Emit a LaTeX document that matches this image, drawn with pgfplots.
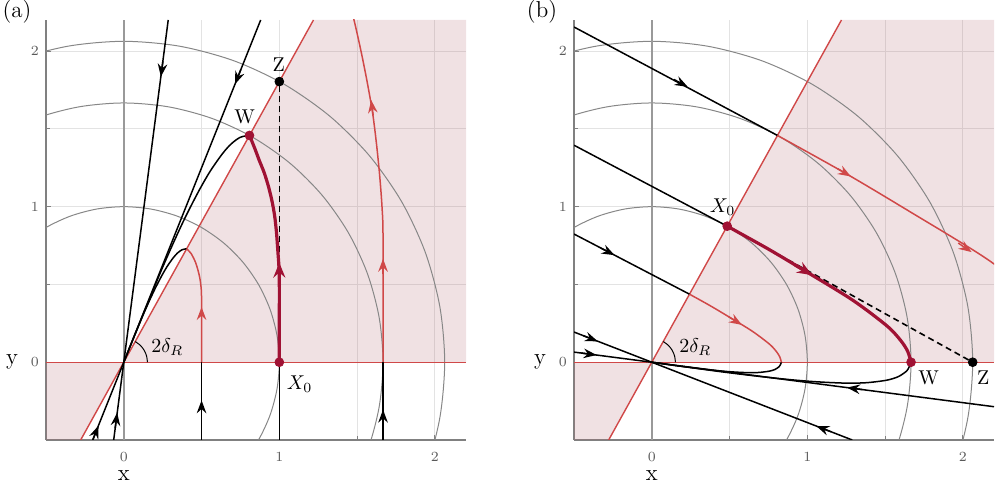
\documentclass[border=0pt]{standalone}
\usepackage{pgfplots}
\pgfplotsset{compat=1.18}
\usepackage{pgfplotstable}
\usetikzlibrary{arrows.meta}

\definecolor{circgray}{RGB}{135,135,135}
\definecolor{redl}{RGB}{208,72,72}
\definecolor{crim}{RGB}{160,18,52}
\definecolor{wedge}{RGB}{180,105,115}

\newcommand\labfont{\fontsize{11.5}{13}\selectfont}
\newcommand\ptfont{\fontsize{10}{12}\selectfont}

% unit circle, every 10 degrees from -40 to 140
\pgfplotstableread{
c s
0.7660 -0.6428
0.8660 -0.5000
0.9397 -0.3420
0.9848 -0.1736
1.0000 0.0000
0.9848 0.1736
0.9397 0.3420
0.8660 0.5000
0.7660 0.6428
0.6428 0.7660
0.5000 0.8660
0.3420 0.9397
0.1736 0.9848
0.0000 1.0000
-0.1736 0.9848
-0.3420 0.9397
-0.5000 0.8660
-0.6428 0.7660
-0.7660 0.6428
}\unitcircle

\pgfplotsset{
  phase/.style={
    width=210pt, height=210pt, scale only axis,
    xmin=-0.5, xmax=2.2, ymin=-0.5, ymax=2.2,
    axis x line*=bottom, axis y line*=left,
    axis line style={draw=black!50, line width=0.6pt},
    xtick={0,1,2}, ytick={0,1,2},
    minor xtick={0.5,1.5}, minor ytick={0.5,1.5},
    grid=both,
    major grid style={draw=black!11, line width=0.5pt},
    minor grid style={draw=black!11, line width=0.5pt},
    tick align=inside,
    major tick length=2.5pt, minor tick length=2pt,
    tick style={draw=black!50, line width=0.5pt},
    ticklabel style={font=\fontsize{7.5}{8}\selectfont, text=black!65},
    xticklabel style={yshift=-2.5pt},
    clip mode=individual,
  },
  ring/.style={circgray, line width=0.5pt, smooth},
  traj/.style={black, line width=0.75pt},
  rtraj/.style={redl, line width=0.75pt},
  ctraj/.style={crim, line width=1.6pt},
  arr/.style={black, line width=0.75pt, -{Stealth[length=6.5pt,width=4.8pt,inset=2.2pt]}},
  rarr/.style={redl, line width=0.75pt, -{Stealth[length=6.5pt,width=4.8pt,inset=2.2pt]}},
  carr/.style={crim, line width=1.6pt, -{Stealth[length=7.5pt,width=6pt,inset=2.6pt]}},
  dash/.style={black, line width=0.8pt, dash pattern=on 3pt off 2pt},
  dot/.style={only marks, mark=*, mark size=2.2pt},
}

\begin{document}
\begin{tikzpicture}
\useasboundingbox (-23pt,-23pt) rectangle (475.5pt,220pt);

% ---------------- (a)
\begin{axis}[phase, at={(0,0)}, anchor=south west]
  \addplot[draw=none, fill=wedge, fill opacity=0.2] coordinates {(0,0)(2.2,0)(2.2,2.2)(1.2195,2.2)} -- cycle;
  \addplot[draw=none, fill=wedge, fill opacity=0.2] coordinates {(0,0)(-0.5,0)(-0.5,-0.5)(-0.2772,-0.5)} -- cycle;
  \addplot[ring] table[x=c, y=s] {\unitcircle};
  \addplot[ring] table[x expr=1.6667*\thisrow{c}, y expr=1.6667*\thisrow{s}] {\unitcircle};
  \addplot[ring] table[x expr=2.063*\thisrow{c}, y expr=2.063*\thisrow{s}] {\unitcircle};
  \addplot[black!40, line width=0.8pt] coordinates {(0,-0.5)(0,2.2)};
  \addplot[redl, line width=0.7pt] coordinates {(-0.5,0)(2.2,0)};
  \addplot[redl, line width=0.7pt] coordinates {(-0.2772,-0.5)(1.2195,2.2)};
  % angle
  \addplot[black, line width=0.5pt, smooth] coordinates {(0.152,0)(0.1468,0.0393)(0.1316,0.076)(0.1075,0.1075)(0.0737,0.1329)};
  % straight lines through the origin
  \addplot[traj] coordinates {(-0.0649,-0.5)(0.2857,2.2)};
  \addplot[traj] coordinates {(-0.2,-0.5)(0.88,2.2)};
  % vertical lines below the x axis
  \addplot[traj] coordinates {(0.5,-0.5)(0.5,0)};
  \addplot[traj] coordinates {(1,-0.5)(1,0)};
  \addplot[traj] coordinates {(1.6667,-0.5)(1.6667,0)};
  % curves back to the origin
  \addplot[traj, smooth] coordinates {(0.808,1.458)(0.749,1.446)(0.690,1.403)(0.634,1.340)(0.555,1.227)(0.484,1.104)(0.401,0.943)(0.331,0.794)(0.247,0.604)(0.167,0.412)(0.1016,0.2526)(0.0457,0.1143)(0,0)};
  \addplot[traj, smooth] coordinates {(0.404,0.729)(0.3745,0.723)(0.345,0.7015)(0.317,0.670)(0.2775,0.6135)(0.242,0.552)(0.2005,0.4715)(0.1655,0.397)(0.1235,0.302)(0.0835,0.206)(0.0508,0.1263)(0.0229,0.0572)(0,0)};
  % red trajectories in the wedge
  \addplot[rtraj, smooth] coordinates {(0.5,0)(0.5,0.40)(0.496,0.49)(0.485,0.56)(0.462,0.64)(0.432,0.70)(0.404,0.729)};
  \addplot[rtraj, smooth] coordinates {(1.6667,0)(1.6667,0.8)(1.66,1.0)(1.645,1.2)(1.625,1.4)(1.60,1.6)(1.565,1.8)(1.525,2.0)(1.48,2.2)(1.45,2.3)};
  % dashed
  \addplot[dash] coordinates {(1,0)(1,1.804)};
  % crimson
  \addplot[ctraj, smooth] coordinates {(1,0)(1,0.3)(1,0.5)(0.997,0.62)(0.99,0.72)(0.982,0.83)(0.97,0.94)(0.952,1.04)(0.93,1.13)(0.902,1.22)(0.87,1.30)(0.84,1.38)(0.808,1.458)};
  % arrows
  \addplot[arr] coordinates {(0.2514,1.934)(0.2385,1.835)};
  \addplot[arr] coordinates {(0.752,1.880)(0.715,1.7875)};
  \addplot[arr] coordinates {(-0.199,-0.500)(-0.162,-0.4075)};
  \addplot[arr] coordinates {(-0.0554,-0.424)(-0.0425,-0.325)};
  \addplot[arr] coordinates {(0.5,-0.345)(0.5,-0.245)};
  \addplot[arr] coordinates {(1.6667,-0.405)(1.6667,-0.305)};
  \addplot[rarr] coordinates {(0.5,0.255)(0.5,0.355)};
  \addplot[rarr] coordinates {(1.6667,0.565)(1.6667,0.665)};
  \addplot[rarr] coordinates {(1.6034,1.586)(1.5905,1.685)};
  \addplot[carr] coordinates {(1,0.50)(1,0.64)};
  % points
  \addplot[dot, crim] coordinates {(0.808,1.458)(1,0)};
  \addplot[dot, black] coordinates {(1,1.804)};
  \node[font=\ptfont] at (axis cs:0.777,1.575) {W};
  \node[font=\ptfont] at (axis cs:0.996,1.915) {Z};
  \node[font=\ptfont] at (axis cs:1.13,-0.14) {$X_0$};
  \node[font=\ptfont] at (axis cs:0.28,0.10) {$2\delta_R$};
  \node[font=\labfont] at (axis cs:0,-0.5) [yshift=-18pt] {x};
  \node[font=\labfont] at (axis cs:-0.5,0) [xshift=-17pt] {y};
  \node[font=\labfont] at (rel axis cs:0,1) [xshift=-14.5pt, yshift=4pt] {(a)};
\end{axis}

% ---------------- (b)
\begin{axis}[phase, at={(264pt,0)}, anchor=south west]
  \addplot[draw=none, fill=wedge, fill opacity=0.2] coordinates {(0,0)(2.2,0)(2.2,2.2)(1.2195,2.2)} -- cycle;
  \addplot[draw=none, fill=wedge, fill opacity=0.2] coordinates {(0,0)(-0.5,0)(-0.5,-0.5)(-0.2772,-0.5)} -- cycle;
  \addplot[ring] table[x=c, y=s] {\unitcircle};
  \addplot[ring] table[x expr=1.6667*\thisrow{c}, y expr=1.6667*\thisrow{s}] {\unitcircle};
  \addplot[ring] table[x expr=2.063*\thisrow{c}, y expr=2.063*\thisrow{s}] {\unitcircle};
  \addplot[black!40, line width=0.8pt] coordinates {(0,-0.5)(0,2.2)};
  \addplot[redl, line width=0.7pt] coordinates {(-0.5,0)(2.2,0)};
  \addplot[redl, line width=0.7pt] coordinates {(-0.2772,-0.5)(1.2195,2.2)};
  \addplot[black, line width=0.5pt, smooth] coordinates {(0.152,0)(0.1468,0.0393)(0.1316,0.076)(0.1075,0.1075)(0.0737,0.1329)};
  % parallel lines from the upper left
  \addplot[traj] coordinates {(-0.5,2.155)(0.8081,1.4578)};
  \addplot[traj] coordinates {(-0.5,1.395)(0.4848,0.8746)};
  \addplot[traj] coordinates {(-0.5,0.824)(0.2424,0.4373)};
  % straight lines through the origin
  \addplot[traj] coordinates {(-0.5,0.065)(2.2,-0.286)};
  \addplot[traj] coordinates {(-0.5,0.194)(1.2887,-0.5)};
  % curves back to the origin
  \addplot[traj, smooth] coordinates {(1.6667,0)(1.654,-0.031)(1.638,-0.057)(1.584,-0.093)(1.508,-0.116)(1.375,-0.132)(1.232,-0.134)(1.047,-0.125)(0.878,-0.111)(0.665,-0.088)(0.452,-0.062)(0.2765,-0.038)(0.1248,-0.0175)(0,0)};
  \addplot[traj, smooth] coordinates {(0.8333,0)(0.827,-0.0157)(0.819,-0.0284)(0.792,-0.0467)(0.754,-0.0578)(0.6875,-0.0659)(0.616,-0.067)(0.5235,-0.0626)(0.439,-0.0556)(0.3325,-0.0443)(0.226,-0.031)(0.138,-0.0194)(0.0624,-0.0086)(0,0)};
  % red trajectories in the wedge
  \addplot[rtraj, smooth] coordinates {(0.8081,1.4577)(1.25,1.2117)(1.6667,0.9633)(2.15,0.6667)(2.5167,0.3917)};
  \addplot[rtraj, smooth] coordinates {(0.2424,0.4373)(0.375,0.3635)(0.5,0.289)(0.645,0.20)(0.755,0.1175)(0.80,0.07)(0.8225,0.035)(0.8333,0)};
  % dashed
  \addplot[dash] coordinates {(0.4848,0.8746)(2.063,0)};
  % crimson
  \addplot[ctraj, smooth] coordinates {(0.4848,0.8746)(0.75,0.727)(1.0,0.578)(1.29,0.40)(1.51,0.235)(1.60,0.14)(1.645,0.07)(1.6667,0)};
  % arrows
  \addplot[arr] coordinates {(0.1426,1.8175)(0.2309,1.7705)};
  \addplot[arr] coordinates {(-0.3277,0.734)(-0.239,0.688)};
  \addplot[arr] coordinates {(-0.4543,0.0591)(-0.355,0.0462)};
  \addplot[arr] coordinates {(1.354,-0.176)(1.255,-0.163)};
  \addplot[arr] coordinates {(-0.4406,0.1705)(-0.3474,0.1343)};
  \addplot[arr] coordinates {(1.1506,-0.4465)(1.0574,-0.4103)};
  \addplot[rarr] coordinates {(0.4946,0.292)(0.5798,0.2397)};
  \addplot[rarr] coordinates {(1.194,1.245)(1.28,1.194)};
  \addplot[rarr] coordinates {(1.97,0.766)(2.056,0.708)};
  \addplot[carr] coordinates {(0.917,0.628)(1.03,0.56)};
  % points
  \addplot[dot, crim] coordinates {(0.4848,0.8746)(1.6667,0)};
  \addplot[dot, black] coordinates {(2.063,0)};
  \node[font=\ptfont] at (axis cs:0.455,0.995) {$X_0$};
  \node[font=\ptfont] at (axis cs:1.78,-0.10) {W};
  \node[font=\ptfont] at (axis cs:2.13,-0.10) {Z};
  \node[font=\ptfont] at (axis cs:0.28,0.10) {$2\delta_R$};
  \node[font=\labfont] at (axis cs:0,-0.5) [yshift=-18pt] {x};
  \node[font=\labfont] at (axis cs:-0.5,0) [xshift=-17pt] {y};
  \node[font=\labfont] at (rel axis cs:0,1) [xshift=-16pt, yshift=4pt] {(b)};
\end{axis}
\end{tikzpicture}
\end{document}
